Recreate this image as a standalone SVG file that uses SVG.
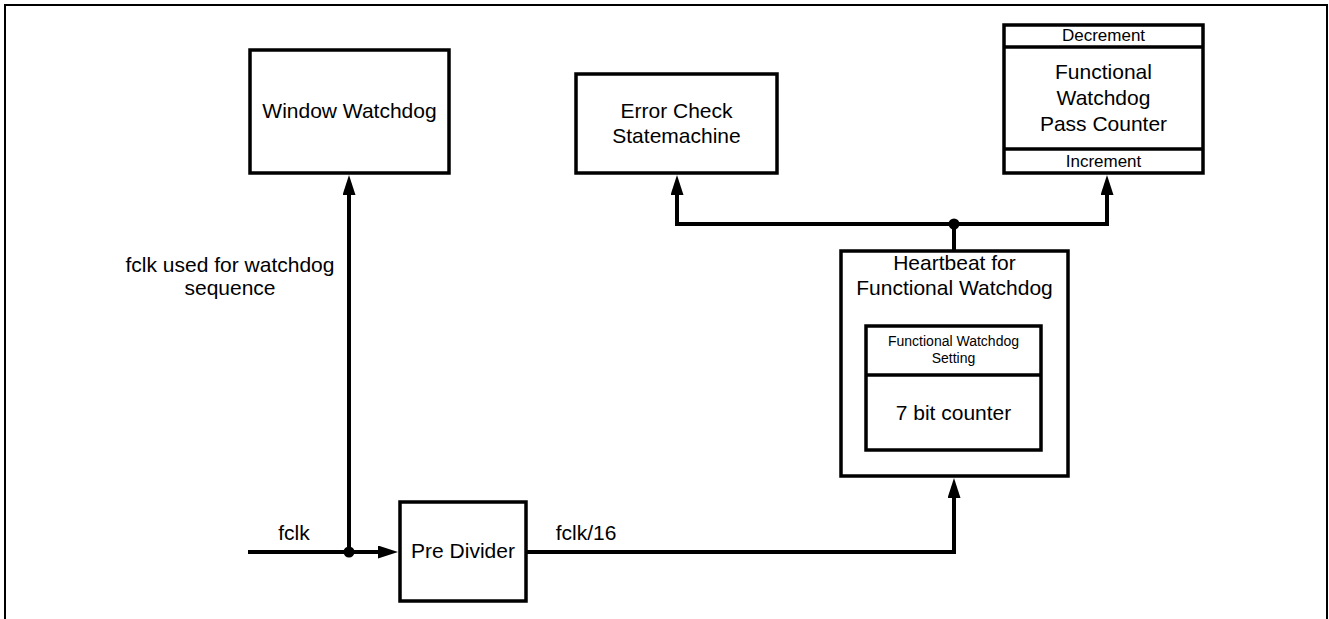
<svg xmlns="http://www.w3.org/2000/svg" width="1329" height="619" viewBox="0 0 1329 619">
<style>
  .box { fill: #fff; stroke: #000; stroke-width: 3.5; }
  .div { stroke: #000; stroke-width: 3.5; fill: none; }
  .wire { stroke: #000; stroke-width: 4; fill: none; }
  .t { font-family: "Liberation Sans", Arial, sans-serif; fill: #000; text-anchor: middle; }
  .l { font-size: 21px; }
  .m { font-size: 17px; }
  .s { font-size: 14px; }
</style>
<defs>
  <marker id="arr" markerUnits="userSpaceOnUse" markerWidth="20" markerHeight="13" refX="8" refY="6.5" orient="auto" viewBox="0 0 20 13">
    <path d="M0,0 L20,6.5 L0,13 z" fill="#000"/>
  </marker>
</defs>
<rect width="1329" height="619" fill="#fff"/>
<path d="M5,619 L5,5 L1327,5 L1327,619" fill="none" stroke="#000" stroke-width="2"/>

<g id="window-watchdog">
  <rect class="box" x="250" y="50" width="199" height="123"/>
  <text class="t l" x="349.5" y="118">Window Watchdog</text>
</g>

<g id="error-check">
  <rect class="box" x="576" y="74" width="201" height="99"/>
  <text class="t l" x="676.5" y="118">Error Check</text>
  <text class="t l" x="676.5" y="143">Statemachine</text>
</g>

<g id="pass-counter">
  <rect class="box" x="1004" y="25" width="199" height="148"/>
  <line class="div" x1="1004" y1="47" x2="1203" y2="47"/>
  <line class="div" x1="1004" y1="149" x2="1203" y2="149"/>
  <text class="t m" x="1103.5" y="41">Decrement</text>
  <text class="t l" x="1103.5" y="79">Functional</text>
  <text class="t l" x="1103.5" y="105">Watchdog</text>
  <text class="t l" x="1103.5" y="131">Pass Counter</text>
  <text class="t m" x="1103.5" y="167">Increment</text>
</g>

<g id="heartbeat">
  <rect class="box" x="841" y="251" width="227" height="225"/>
  <text class="t l" x="954.5" y="270">Heartbeat for</text>
  <text class="t l" x="954.5" y="295">Functional Watchdog</text>
  <g id="counter">
    <rect class="box" x="866" y="326" width="175" height="124"/>
    <line class="div" x1="866" y1="375" x2="1041" y2="375"/>
    <text class="t s" x="953.5" y="346">Functional Watchdog</text>
    <text class="t s" x="953.5" y="363">Setting</text>
    <text class="t l" x="953.5" y="420">7 bit counter</text>
  </g>
</g>

<g id="pre-divider">
  <rect class="box" x="400" y="502" width="126" height="99"/>
  <text class="t l" x="463" y="558">Pre Divider</text>
</g>

<g id="connectors">
  <path class="wire" d="M248,552 L386,552" marker-end="url(#arr)"/>
  <path class="wire" d="M349,552 L349,187" marker-end="url(#arr)"/>
  <path class="wire" d="M526,552 L954,552 L954,490" marker-end="url(#arr)"/>
  <path class="wire" d="M954,251 L954,224"/>
  <path class="wire" d="M954,224 L677,224 L677,187" marker-end="url(#arr)"/>
  <path class="wire" d="M954,224 L1107,224 L1107,187" marker-end="url(#arr)"/>
  <circle cx="954" cy="224" r="5.5" fill="#000"/>
  <circle cx="349" cy="552" r="5.5" fill="#000"/>
  <text class="t l" x="294" y="540">fclk</text>
  <text class="t l" x="586" y="540">fclk/16</text>
  <text class="t l" x="230" y="272">fclk used for watchdog</text>
  <text class="t l" x="230" y="295">sequence</text>
</g>
</svg>
